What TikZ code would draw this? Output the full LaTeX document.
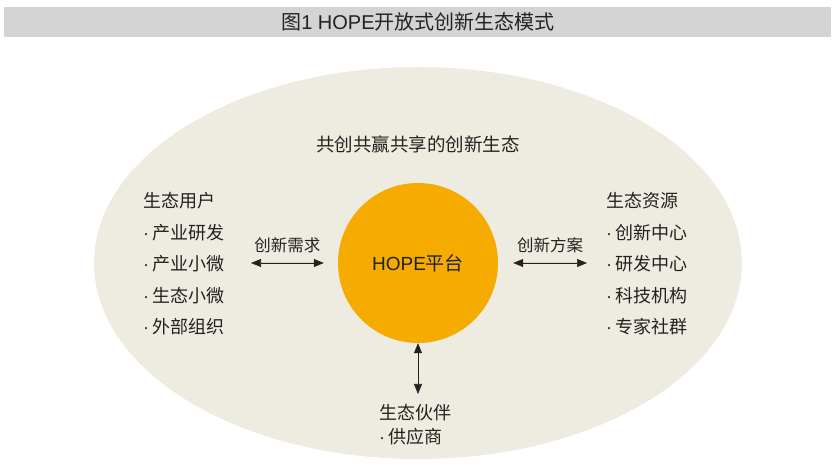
\documentclass[tikz,border=0pt]{standalone}
\usepackage{fontspec}
\setmainfont{Noto Sans CJK SC}
\newfontfamily\latinfont{Liberation Sans}
\usetikzlibrary{arrows.meta}
\definecolor{barfill}{HTML}{D3D4D3}
\definecolor{ecofill}{HTML}{EEECE0}
\definecolor{hopefill}{HTML}{F5AB00}
\definecolor{ink}{HTML}{222222}
\newcommand\dotitem{\makebox[9pt][l]{{\latinfont ·}}}

\begin{document}
\begin{tikzpicture}[x=1pt,y=-1pt,
  lbl/.style={text=ink,inner sep=0pt,font=\fontsize{16.5}{18}\selectfont},
  grp/.style={text=ink,inner sep=0pt,align=left,anchor=west,font=\fontsize{18}{31.5}\selectfont},
  dbl/.style={{Triangle[length=10pt,width=8pt]}-{Triangle[length=10pt,width=8pt]},draw=ink,fill=ink,line width=0.6pt}]
\useasboundingbox (0,0) rectangle (839,470);
\fill[barfill] (4,7) rectangle (831,37);
\fill[ecofill] (418,263) ellipse (324 and 196);

\node[text=ink,inner sep=0pt,font=\fontsize{20}{22}\selectfont] (title) at (418,22) {图{\latinfont 1 HOPE}开放式创新生态模式};
\node[text=ink,inner sep=0pt,font=\fontsize{18.5}{20}\selectfont] (eco) at (418,144) {共创共赢共享的创新生态};
\node[circle,fill=hopefill,minimum size=160pt,inner sep=0pt,text=ink,font=\fontsize{19}{20}\selectfont] (hope) at (418,263) {{\latinfont HOPE}平台};

\node[grp] (users) at (143,264) {生态用户\\\dotitem 产业研发\\\dotitem 产业小微\\\dotitem 生态小微\\\dotitem 外部组织};
\node[grp] (res) at (606,264) {生态资源\\\dotitem 创新中心\\\dotitem 研发中心\\\dotitem 科技机构\\\dotitem 专家社群};
\node[grp,font=\fontsize{18}{23.5}\selectfont] (part) at (379,424.5) {生态伙伴\\\dotitem 供应商};

\coordinate (un) at (251,263);
\coordinate (rn) at (587,263);
\coordinate (pn) at (418,394);

\draw[dbl] (un) -- node[lbl,above=10pt] {创新需求} ([xshift=-14pt]hope.west);
\draw[dbl] ([xshift=15pt]hope.east) -- node[lbl,above=10pt] {创新方案} (rn);
\draw[dbl] (hope.south) -- (pn);
\end{tikzpicture}
\end{document}
